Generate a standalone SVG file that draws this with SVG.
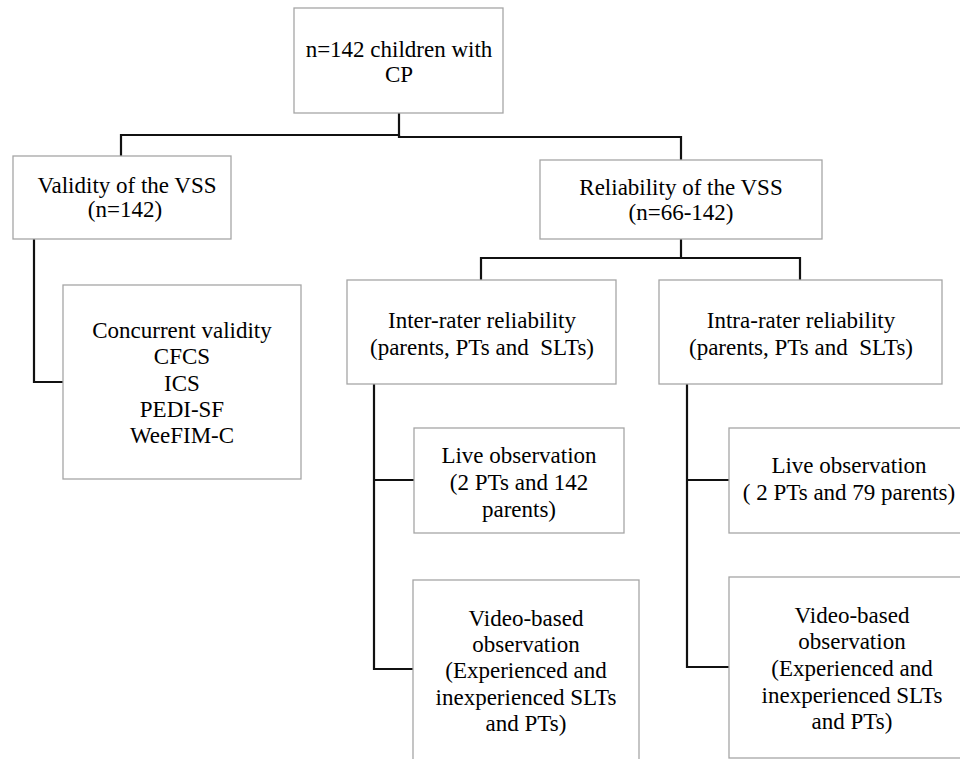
<svg xmlns="http://www.w3.org/2000/svg" width="960" height="759" viewBox="0 0 960 759">
<style>
.box{fill:#ffffff;stroke:#a6a6a6;stroke-width:1.3}
.t{font-family:'Times New Roman','Liberation Serif','DejaVu Serif',serif;font-size:23px;fill:#000;text-anchor:middle}
.c{fill:none;stroke:#111;stroke-width:2.2}
</style>
<rect width="960" height="759" fill="#ffffff"/>
<g id="connectors">
<polyline class="c" points="121,157 121,135 399,135 399,113"/>
<polyline class="c" points="399,135 399,137 681,137 681,160"/>
<polyline class="c" points="34,239 34,382 63,382"/>
<polyline class="c" points="681,239 681,258"/>
<polyline class="c" points="481,280 481,258 800,258 800,280"/>
<polyline class="c" points="374,384 374,669 413,669"/>
<polyline class="c" points="374,480 414,480"/>
<polyline class="c" points="687,384 687,667 729,667"/>
<polyline class="c" points="687,480 729,480"/>
</g>
<g id="n-root">
<rect class="box" x="294" y="8" width="209" height="105"/>
<text class="t" x="399" y="57">n=142 children with</text>
<text class="t" x="399" y="82">CP</text>
</g>
<g id="n-validity">
<rect class="box" x="13" y="156" width="218" height="83"/>
<text class="t" x="127" y="193">Validity of the VSS</text>
<text class="t" x="125" y="217">(n=142)</text>
</g>
<g id="n-reliability">
<rect class="box" x="540" y="160" width="282" height="79"/>
<text class="t" x="681" y="195">Reliability of the VSS</text>
<text class="t" x="681" y="220">(n=66-142)</text>
</g>
<g id="n-concurrent">
<rect class="box" x="63" y="285" width="238" height="194"/>
<text class="t" x="182" y="338">Concurrent validity</text>
<text class="t" x="182" y="364">CFCS</text>
<text class="t" x="182" y="391">ICS</text>
<text class="t" x="182" y="417">PEDI-SF</text>
<text class="t" x="182" y="443">WeeFIM-C</text>
</g>
<g id="n-inter">
<rect class="box" x="347" y="280" width="269" height="104"/>
<text class="t" x="482" y="328">Inter-rater reliability</text>
<text class="t" x="482" y="355" xml:space="preserve">(parents, PTs and  SLTs)</text>
</g>
<g id="n-intra">
<rect class="box" x="659" y="280" width="283" height="104"/>
<text class="t" x="801" y="328">Intra-rater reliability</text>
<text class="t" x="801" y="355" xml:space="preserve">(parents, PTs and  SLTs)</text>
</g>
<g id="n-live-inter">
<rect class="box" x="414" y="428" width="210" height="105"/>
<text class="t" x="519" y="463">Live observation</text>
<text class="t" x="519" y="490">(2 PTs and 142</text>
<text class="t" x="519" y="517">parents)</text>
</g>
<g id="n-video-inter">
<rect class="box" x="413" y="580" width="226" height="185"/>
<text class="t" x="526" y="626">Video-based</text>
<text class="t" x="526" y="652">observation</text>
<text class="t" x="526" y="678">(Experienced and</text>
<text class="t" x="526" y="705">inexperienced SLTs</text>
<text class="t" x="526" y="731">and PTs)</text>
</g>
<g id="n-live-intra">
<rect class="box" x="729" y="428" width="240" height="105"/>
<text class="t" x="849" y="473">Live observation</text>
<text class="t" x="849" y="500" xml:space="preserve">( 2 PTs and 79 parents)</text>
</g>
<g id="n-video-intra">
<rect class="box" x="729" y="577" width="240" height="181"/>
<text class="t" x="852" y="623">Video-based</text>
<text class="t" x="852" y="649">observation</text>
<text class="t" x="852" y="676">(Experienced and</text>
<text class="t" x="852" y="703">inexperienced SLTs</text>
<text class="t" x="852" y="729">and PTs)</text>
</g>
</svg>
